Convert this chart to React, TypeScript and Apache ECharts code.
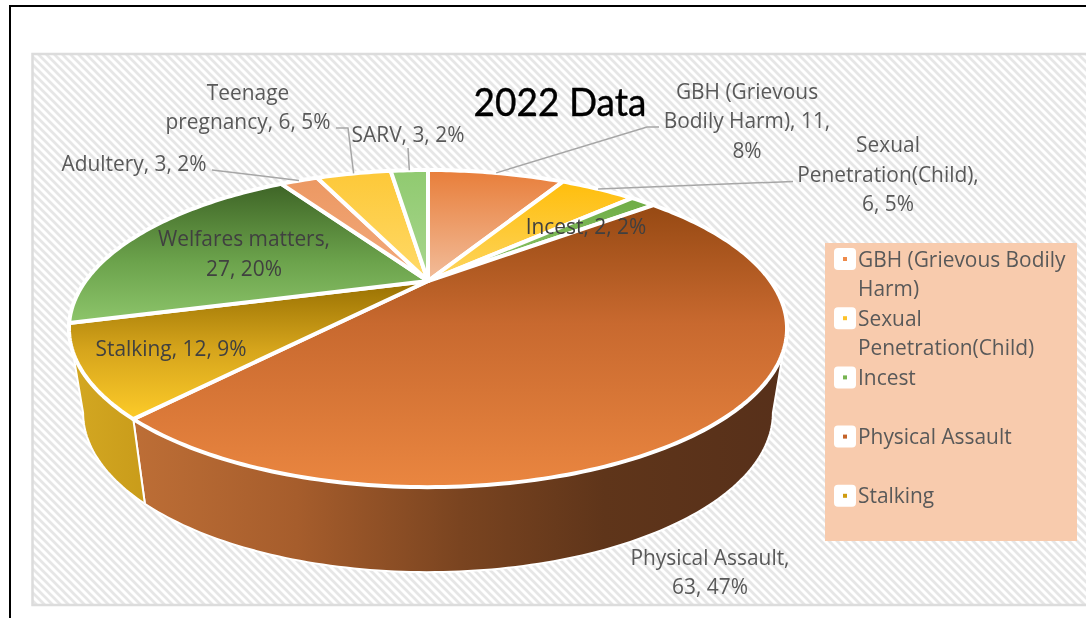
import React, { useEffect, useRef } from "react";
import * as echarts from "echarts";

const categories = ["GBH (Grievous Bodily Harm)", "Sexual Penetration(Child)", "Incest", "Physical Assault", "Stalking", "Welfares matters", "Adultery", "Teenage pregnancy", "SARV"];
const values = [11, 6, 2, 63, 12, 27, 3, 6, 3];
const titleText = "2022 Data";
const legendRows = [["GBH (Grievous Bodily", "Harm)"], ["Sexual", "Penetration(Child)"], ["Incest"], ["Physical Assault"], ["Stalking"]];
const labelBreaks = [
  (n: string, v: number, p: number) => `GBH (Grievous\nBodily Harm), ${v},\n${p}%`,
  (n: string, v: number, p: number) => `Sexual\nPenetration(Child),\n${v}, ${p}%`,
  (n: string, v: number, p: number) => `${n}, ${v}, ${p}%`,
  (n: string, v: number, p: number) => `${n},\n${v}, ${p}%`,
  (n: string, v: number, p: number) => `${n}, ${v}, ${p}%`,
  (n: string, v: number, p: number) => `${n},\n${v}, ${p}%`,
  (n: string, v: number, p: number) => `${n}, ${v}, ${p}%`,
  (n: string, v: number, p: number) => `Teenage\npregnancy, ${v}, ${p}%`,
  (n: string, v: number, p: number) => `${n}, ${v}, ${p}%`,
];

// layout and style
const labelPos = [[747, 120], [888, 173.5], [586, 225.5], [710, 571.5], [171, 347.5], [244, 253], [134, 162.5], [248, 106.5], [408, 133.5]];
const labelColors = ["#595959", "#595959", "#404040", "#595959", "#404040", "#404040", "#595959", "#595959", "#595959"];
const elbows: (number[][] | null)[] = [[[659, 127], [647, 127]], [[793, 181.5]], null, null, null, null, [[212, 170]], [[336, 128], [348, 128]], [[408, 148]]];
const faceFill: [number, string][][] = [
  [[0, "#e87e3a"], [1, "#f2bd9b"]],
  [[0, "#ffbe0c"], [1, "#fdd560"]],
  [[0, "#6fac46"], [1, "#8cc66a"]],
  [[0, "#964913"], [0.42, "#c8692f"], [1, "#ea8640"]],
  [[0, "#987002"], [0.5, "#d6a51c"], [1, "#fdcb29"]],
  [[0, "#3e6426"], [0.55, "#6ba24b"], [1, "#8dc56b"]],
  [[0, "#ec9862"], [1, "#f3aa7c"]],
  [[0, "#fdc838"], [1, "#ffda68"]],
  [[0, "#90ca70"], [1, "#a8d68d"]],
];
const wallFill: Record<number, [number, string][]> = {
  3: [[0, "#bd6e36"], [0.25, "#a65d2c"], [0.5, "#7a4420"], [0.72, "#5f351a"], [1, "#57301a"]],
  4: [[0, "#d4a822"], [1, "#c99c1a"]],
};
const legendMarks = ["#ee8a4a", "#fdc22a", "#77b452", "#c4632a", "#cf9c10"];

// perspective of the pie's disc
const CX = 428, K = 0.3;
const TOP = { ay: 281, R: 342.5, S: 144.3 };
const BOTTOM = { ay: 365, R: 329, S: 145 };
const project = (deg: number, d: { ay: number; R: number; S: number }) => {
  const t = (deg * Math.PI) / 180;
  const u = Math.sin(t), v = -Math.cos(t), w = 1 - K * v;
  return [CX + (d.R * u) / w, d.ay + (d.S * v) / w];
};
const arc = (a: number, b: number, d: typeof TOP) => {
  const n = Math.max(2, Math.ceil(Math.abs(b - a)));
  const out: number[][] = [];
  for (let i = 0; i <= n; i++) out.push(project(a + ((b - a) * i) / n, d));
  return out;
};
const total = values.reduce((s, v) => s + v, 0);
const startAngles = values.map((_, i) => (values.slice(0, i).reduce((s, v) => s + v, 0) / total) * 360);
const endAngles = values.map((v, i) => startAngles[i] + (v / total) * 360);
const TAN_R = (Math.acos(-K) * 180) / Math.PI, TAN_L = 360 - TAN_R;

const gradient = (x2: number, y2: number, stops: [number, string][]) =>
  new echarts.graphic.LinearGradient(0, 0, x2, y2, stops.map(([offset, color]) => ({ offset, color })));

function hatch() {
  const c = document.createElement("canvas");
  c.width = 8; c.height = 8;
  const g = c.getContext("2d")!;
  g.fillStyle = "#ffffff"; g.fillRect(0, 0, 8, 8);
  g.strokeStyle = "#e6e6e6"; g.lineWidth = 2.7;
  for (const o of [-8, 0, 8]) {
    g.beginPath(); g.moveTo(o - 2, -2); g.lineTo(o + 10, 10); g.stroke();
  }
  return c;
}

export default function App() {
  const ref = useRef<HTMLDivElement>(null);
  useEffect(() => {
    document.body.style.margin = "0";
    const chart = echarts.init(ref.current!, null, { renderer: "svg" });
    const labelFont = { fontFamily: "'Open Sans'", fontSize: 20.9, lineHeight: 29.5 };
    const graphic: any[] = [
      { type: "rect", z: -10, shape: { x: 0, y: 0, width: 1086, height: 618 }, style: { fill: "#ffffff" } },
      { type: "rect", z: -9, shape: { x: 10, y: 6, width: 1200, height: 800 }, style: { fill: "#ffffff", stroke: "#000000", lineWidth: 2 } },
      { type: "rect", z: -8, shape: { x: 32.5, y: 54, width: 1200, height: 551 }, style: { fill: { image: hatch(), repeat: "repeat" } as any, stroke: "#dcdcdc", lineWidth: 2.5 } },
      { type: "text", z: 50, x: 560, y: 101, scaleX: 0.95, style: { text: titleText, fontFamily: "Lato", fontSize: 39, fill: "#000000", stroke: "#000000", lineWidth: 0.4, align: "center", verticalAlign: "middle" } },
      { type: "rect", z: 50, shape: { x: 825, y: 243, width: 252, height: 298 }, style: { fill: "#f8cbad" } },
    ];
    values.forEach((v, i) => {
      const lines = elbows[i];
      if (lines) {
        const mid = (startAngles[i] + endAngles[i]) / 2;
        graphic.push({ type: "polyline", z: 40, shape: { points: [...lines, project(mid, TOP)] }, style: { stroke: "#a6a6a6", lineWidth: 1.5, fill: "none" } });
      }
      graphic.push({
        type: "text", z: 60, x: labelPos[i][0], y: labelPos[i][1],
        style: { text: labelBreaks[i](categories[i], v, Math.round((v / total) * 100)), ...labelFont, fill: labelColors[i], align: "center", verticalAlign: "middle" },
      });
    });
    let row = 0;
    legendRows.forEach((rows, i) => {
      const y = 259 + row * 29.6;
      graphic.push({ type: "rect", z: 55, shape: { x: 834, y: y - 11, width: 22, height: 22, r: 4 }, style: { fill: "#ffffff" } });
      graphic.push({ type: "rect", z: 56, shape: { x: 843, y: y - 2, width: 4, height: 4 }, style: { fill: legendMarks[i] } });
      graphic.push({ type: "text", z: 60, x: 858, y: y - 0.5 + (rows.length - 1) * 14.8, style: { text: rows.join("\n"), ...labelFont, fill: "#595959", align: "left", verticalAlign: "middle" } });
      row += 2;
    });

    chart.setOption({
      animation: false,
      graphic: { elements: graphic },
      series: [
        {
          type: "custom", coordinateSystem: "none", name: "Walls", z: 2, silent: true,
          data: values,
          renderItem: (params: any) => {
            const i = params.dataIndex;
            const a = Math.max(startAngles[i], TAN_R), b = Math.min(endAngles[i], TAN_L);
            if (b <= a) return { type: "group", children: [] };
            const pts = [...arc(a, b, TOP), ...arc(b, a, BOTTOM)];
            return {
              type: "polygon", shape: { points: pts },
              style: { fill: gradient(1, 0, wallFill[i] || faceFill[i]), stroke: "#ffffff", lineWidth: 2, lineJoin: "round" },
            };
          },
        },
        {
          type: "custom", coordinateSystem: "none", name: "2022 Data", z: 3, silent: true,
          data: categories.map((name, i) => ({ name, value: values[i] })),
          renderItem: (params: any) => {
            const i = params.dataIndex;
            const pts = [[CX, TOP.ay], ...arc(startAngles[i], endAngles[i], TOP)];
            return {
              type: "polygon", shape: { points: pts },
              style: { fill: gradient(0, 1, faceFill[i]), stroke: "#ffffff", lineWidth: 4, lineJoin: "round" },
            };
          },
        },
      ],
    });
    return () => chart.dispose();
  }, []);
  return <div ref={ref} style={{ position: "fixed", left: 0, top: 0, width: 1086, height: 618 }} />;
}
